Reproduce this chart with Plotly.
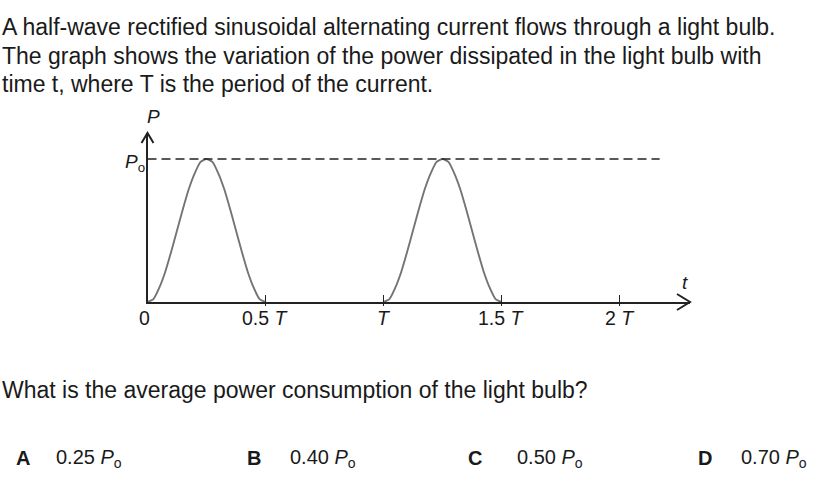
import plotly.graph_objects as go

W, H = 837, 490

# ---- data, time in units of T, power in units of P0 ----
hump1_t = [0.000, 0.025, 0.050, 0.075, 0.100, 0.125, 0.150, 0.175, 0.200, 0.225, 0.250,
           0.275, 0.300, 0.325, 0.350, 0.375, 0.400, 0.425, 0.450, 0.475, 0.500]
hump2_t = [1.000, 1.025, 1.050, 1.075, 1.100, 1.125, 1.150, 1.175, 1.200, 1.225, 1.250,
           1.275, 1.300, 1.325, 1.350, 1.375, 1.400, 1.425, 1.450, 1.475, 1.500]
hump_p = [0.00, 0.02, 0.10, 0.21, 0.35, 0.50, 0.65, 0.79, 0.90, 0.98, 1.00,
          0.98, 0.90, 0.79, 0.65, 0.50, 0.35, 0.21, 0.10, 0.02, 0.00]
peak_level = 1.0
dash_end_t = 2.17

tick_vals = [0, 0.5, 1, 1.5, 2]
tick_text = ["0", "0.5 <i>T</i>", "<i>T</i>", "1.5 <i>T</i>", "2 <i>T</i>"]

intro_lines = [
    "A half-wave rectified sinusoidal alternating current flows through a light bulb.",
    "The graph shows the variation of the power dissipated in the light bulb with",
    "time t, where T is the period of the current.",
]
question = "What is the average power consumption of the light bulb?"
option_letters = ["A", "B", "C", "D"]
option_values = ["0.25", "0.40", "0.50", "0.70"]

FONT = "Liberation Sans, Arial, Helvetica, sans-serif"
INK = "#1a1a1a"
AXC = "#222222"


def px(x):
    return x / W


def py(y):
    return 1 - y / H


# axis geometry (pixels)
x0_pix, x_end_pix = 147.5, 690
y0_pix, y_top_pix = 302, 133
px_per_T = 236.0
px_per_P = 143.0

x_range = [0.0, (x_end_pix - x0_pix) / px_per_T]
y_range = [0, (y0_pix - y_top_pix) / px_per_P]

fig = go.Figure()

# curve
t_all = hump1_t + [None] + hump2_t
p_all = hump_p + [None] + hump_p
fig.add_trace(go.Scatter(x=t_all, y=p_all, mode="lines",
                         line=dict(color="#747474", width=1.9, shape="spline", smoothing=0.6),
                         connectgaps=False, hoverinfo="skip", showlegend=False))

# dashed P0 line
fig.add_trace(go.Scatter(x=[0, dash_end_t], y=[peak_level, peak_level], mode="lines",
                         line=dict(color=AXC, width=1.7, dash="9px,5px"),
                         hoverinfo="skip", showlegend=False))

# invisible trace to build overlaid axis for the lower part of tick marks
fig.add_trace(go.Scatter(x=[0], y=[0], xaxis="x2", mode="markers",
                         marker=dict(opacity=0), hoverinfo="skip", showlegend=False))

fig.update_layout(
    width=W, height=H,
    margin=dict(l=0, r=0, t=0, b=0),
    paper_bgcolor="white", plot_bgcolor="white",
    font=dict(family=FONT, color=INK),
    showlegend=False,
    xaxis=dict(domain=[px(x0_pix), px(x_end_pix)], range=x_range,
               showline=True, linecolor=AXC, linewidth=2,
               showgrid=False, zeroline=False,
               tickmode="array", tickvals=tick_vals,
               ticks="inside", ticklen=7, tickwidth=1.4, tickcolor=AXC,
               showticklabels=False,
               fixedrange=True),
    xaxis2=dict(overlaying="x", matches="x", anchor="y", side="bottom",
                showline=False, showgrid=False, zeroline=False,
                tickmode="array", tickvals=tick_vals[1:],
                ticks="outside", ticklen=3, tickwidth=1.4, tickcolor=AXC,
                showticklabels=False),
    yaxis=dict(domain=[1 - y0_pix / H, 1 - y_top_pix / H], range=y_range,
               showline=True, linecolor=AXC, linewidth=2,
               showgrid=False, zeroline=False, showticklabels=False, ticks="",
               fixedrange=True),
)

# axis arrow heads (open chevrons), paper coordinates
def chevron(points):
    d = "M" + " L".join(f"{px(a):.5f},{py(b):.5f}" for a, b in points)
    fig.add_shape(type="path", xref="paper", yref="paper", path=d,
                  line=dict(color=AXC, width=2))


chevron([(677, 294), (x_end_pix, y0_pix), (677, 310)])
chevron([(x0_pix - 6, 143), (x0_pix, y_top_pix), (x0_pix + 6, 143)])

ann = []
# tick labels positioned through the x axis
for v, t in zip(tick_vals, tick_text):
    ann.append(dict(x=v, y=py(318), xref="x", yref="paper", text=t,
                    xanchor="center", yanchor="middle", showarrow=False,
                    xshift=-3 if v == 0 else 0,
                    font=dict(size=19.5, family=FONT, color=INK)))

# axis labels
ann.append(dict(x=px(153), y=py(117), xref="paper", yref="paper", text="<i>P</i>",
                xanchor="center", yanchor="middle",
                showarrow=False, font=dict(size=19, family=FONT, color=INK)))
ann.append(dict(x=px(685), y=py(282), xref="paper", yref="paper", text="<i>t</i>",
                xanchor="center", yanchor="middle",
                showarrow=False, font=dict(size=19, family=FONT, color=INK)))
ann.append(dict(x=0, y=peak_level, xref="x", yref="y", text="<i>P</i><sub>o</sub>",
                xanchor="right", yanchor="middle", xshift=-1, yshift=-4,
                showarrow=False, font=dict(size=19, family=FONT, color=INK)))

# intro text
for line, yc in zip(intro_lines, [27, 55.5, 84]):
    ann.append(dict(x=px(0), y=py(yc), xref="paper", yref="paper", text=line,
                    xanchor="left", yanchor="middle", showarrow=False,
                    font=dict(size=23, family=FONT, color=INK)))

# question
ann.append(dict(x=px(0), y=py(389.5), xref="paper", yref="paper", text=question,
                xanchor="left", yanchor="middle", showarrow=False,
                font=dict(size=23, family=FONT, color=INK)))

# options
letter_x = [14, 245, 466, 696]
value_x = [54, 288, 515, 739]
for L, v, lx, vx in zip(option_letters, option_values, letter_x, value_x):
    ann.append(dict(x=px(lx), y=py(458), xref="paper", yref="paper", text=f"<b>{L}</b>",
                    xanchor="left", yanchor="middle", showarrow=False,
                    font=dict(size=20, family=FONT, color=INK)))
    ann.append(dict(x=px(vx), y=py(458), xref="paper", yref="paper",
                    text=f"{v} <i>P</i><sub>o</sub>",
                    xanchor="left", yanchor="middle", showarrow=False,
                    font=dict(size=20, family=FONT, color=INK)))

fig.update_layout(annotations=ann)

fig.write_html("out.html",
               config={"displayModeBar": False},
               post_script="document.body.style.margin='0px';document.body.style.padding='0px';")
